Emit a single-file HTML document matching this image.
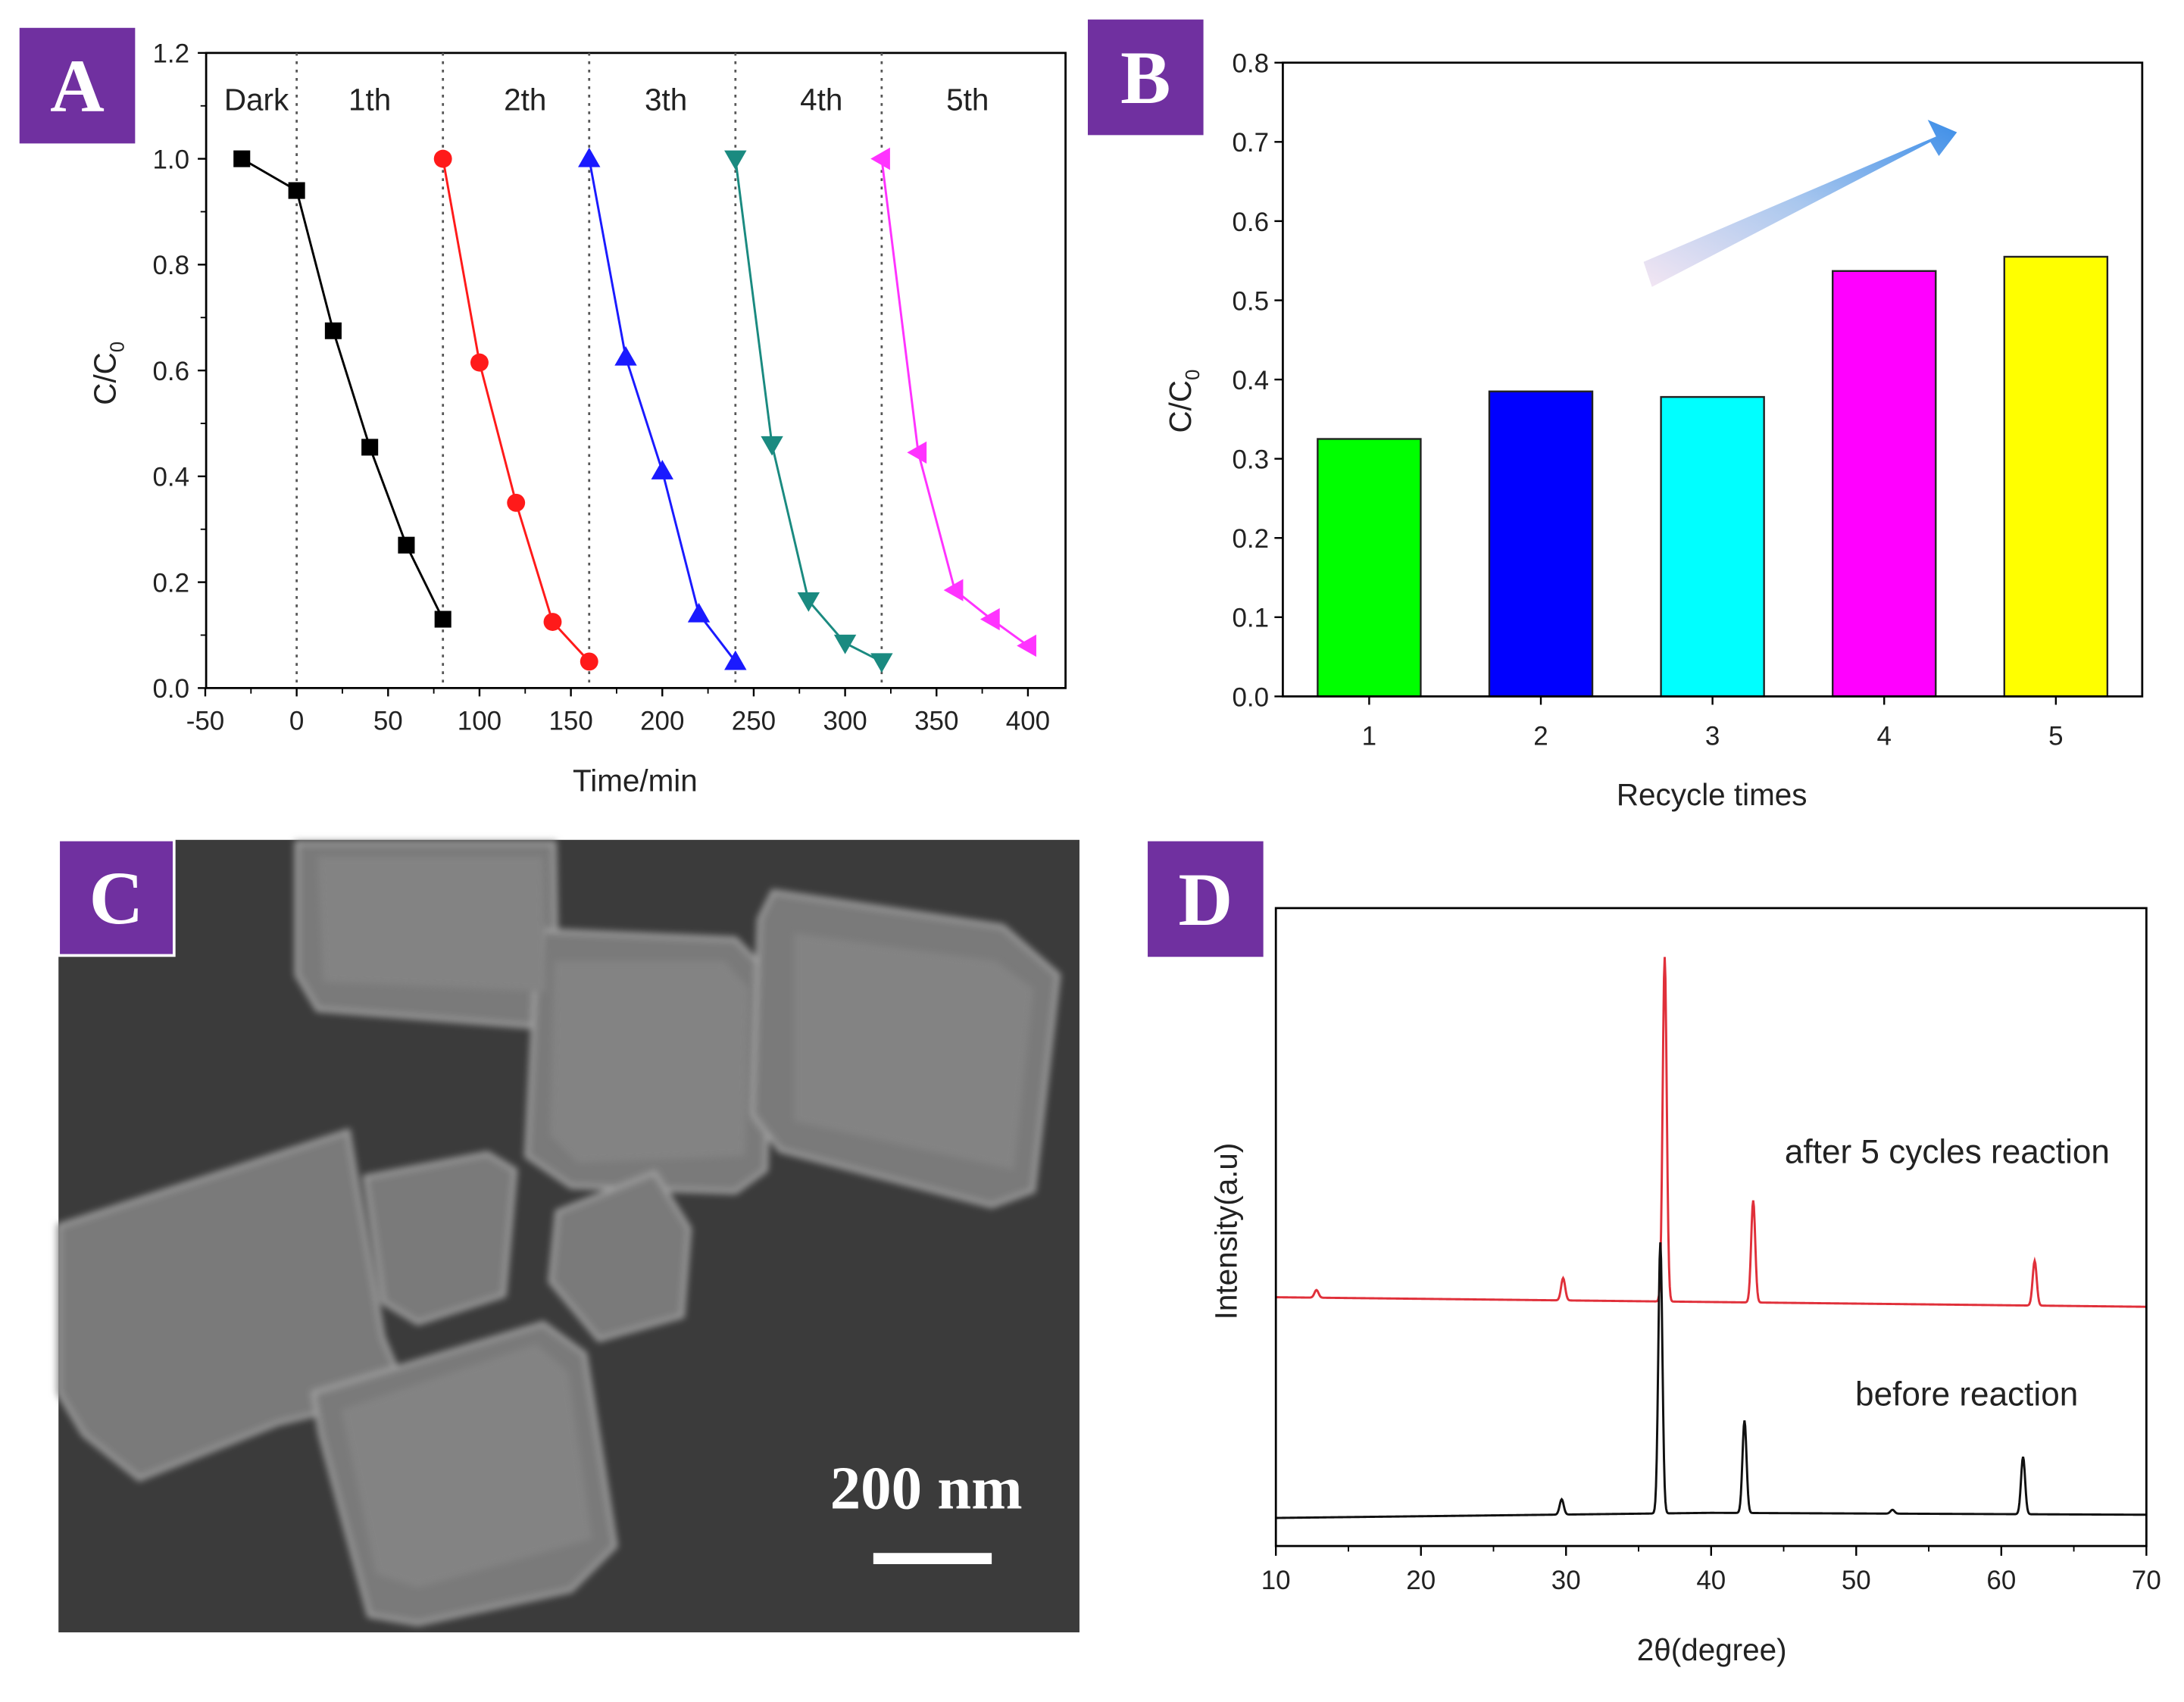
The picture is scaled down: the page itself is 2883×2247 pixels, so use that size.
<!DOCTYPE html>
<html><head><meta charset="utf-8"><style>
html,body{margin:0;padding:0;background:#fff;}
svg{display:block;font-family:"Liberation Sans",sans-serif;}
</style></head><body>
<svg id="fig" width="2883" height="2247" viewBox="0 0 1568 1222" preserveAspectRatio="none" xmlns="http://www.w3.org/2000/svg">
<defs>
<linearGradient id="arrowGrad" x1="0" y1="1" x2="1" y2="0">
<stop offset="0" stop-color="#f3e6f3"/><stop offset="0.5" stop-color="#a9c7ee"/><stop offset="1" stop-color="#3d8ee8"/>
</linearGradient>
<filter id="blur"><feGaussianBlur stdDeviation="2.5"/></filter>
</defs>
<g id="gA"></g>
<g id="gB"></g>
<g id="gC">
<rect x="42" y="603" width="733" height="569" fill="#3b3b3b"/>
<g fill="#7a7a7a" stroke="#a0a0a0" stroke-width="3" filter="url(#blur)">
<polygon points="213,605 398,605 400,720 380,737 228,725 213,700"/>
<polygon points="388,668 528,674 553,700 550,840 528,856 410,852 378,830 385,690"/>
<polygon points="555,640 720,665 760,700 742,855 712,866 560,826 540,800 545,660"/>
<polygon points="400,870 470,842 495,882 490,945 430,962 395,920"/>
<polygon points="42,880 250,812 275,960 292,1000 200,1022 100,1062 60,1030 42,1000"/>
<polygon points="262,845 350,828 370,840 362,930 300,950 275,935"/>
<polygon points="225,1000 390,950 420,972 442,1110 410,1142 300,1166 265,1160 230,1030"/>
</g>
<g fill="#838383" filter="url(#blur)">
<polygon points="228,615 390,615 392,712 232,705"/>
<polygon points="398,690 520,690 538,710 535,830 415,835 395,815"/>
<polygon points="570,670 715,690 742,710 728,840 570,805"/>
<polygon points="245,1012 385,965 408,985 425,1105 300,1140 270,1130"/>
</g>
<text x="665" y="1083" text-anchor="middle" font-family="Liberation Serif,serif" font-weight="bold" font-size="44" fill="#fff">200 nm</text>
<rect x="627" y="1115" width="85" height="8" fill="#fff"/>
</g>
<g id="gD"></g>
<g id="labels"></g>
</svg>
<script>
// ---------- Panel A data ----------
const aSeriesNames = ["black","red","blue","teal","magenta"];
const aTimes = [[-30,0,20,40,60,80],[80,100,120,140,160],[160,180,200,220,240],[240,260,280,300,320],[320,340,360,380,400]];
const aValues = [[1.0,0.94,0.675,0.455,0.27,0.13],[1.0,0.615,0.35,0.125,0.05],[1.0,0.625,0.41,0.14,0.05],[1.0,0.46,0.165,0.085,0.05],[1.0,0.445,0.185,0.13,0.08]];
const aColors = ["#000000","#ff1a1a","#1a1aff","#1a8a80","#ff33ff"];
const aXTicks = [-50,0,50,100,150,200,250,300,350,400];
const aYTicks = [0.0,0.2,0.4,0.6,0.8,1.0,1.2];
const aDividers = [0,80,160,240,320];
const aStageLabels = ["Dark","1th","2th","3th","4th","5th"];
const aStageX = [-22,40,125,202,287,367];
// ---------- Panel B data ----------
const bCategories = ["1","2","3","4","5"];
const bValues = [0.325,0.385,0.378,0.537,0.555];
const bColors = ["#00ff00","#0000ff","#00ffff","#ff00ff","#ffff00"];
const bYTicks = [0.0,0.1,0.2,0.3,0.4,0.5,0.6,0.7,0.8];
// ---------- Panel D data ----------
const dXTicks = [10,20,30,40,50,60,70];
const redPeaksPos = [12.8,29.8,36.8,42.9,62.3];
const redPeaksAmp = [1.2,3.5,54,16,7];
const redBase = [39,37.5];
const blackPeaksPos = [29.7,36.5,42.3,52.5,61.5];
const blackPeaksAmp = [2.4,42.5,14.5,0.6,9];
const blackBase = [4.4,5.2,4.9];

const NS="http://www.w3.org/2000/svg";
function mk(parent,tag,attrs,text){const e=document.createElementNS(NS,tag);for(const k in attrs)e.setAttribute(k,attrs[k]);if(text!==undefined)e.textContent=text;parent.appendChild(e);return e;}

// ===== Panel A =====
(function(){
const g=document.getElementById('gA');
const L=148,R=765,T=38,B=494;
const xA=v=>213+(v-0)*(738-213)/400;
const yA=v=>B-(v/1.2)*(B-T);
let e=mk(g,'rect',{x:L,y:T,width:R-L,height:B-T,fill:'none',stroke:'#000','stroke-width':1.5});

aXTicks.forEach(t=>{const x=xA(t);mk(g,'line',{x1:x,y1:B,x2:x,y2:B+6,stroke:'#000','stroke-width':1.3});
 e=mk(g,'text',{x:x,y:B+30,'text-anchor':'middle','font-size':19,fill:'#222'},String(t));
 
 const xm=xA(t+25); if(t<400) mk(g,'line',{x1:xm,y1:B,x2:xm,y2:B+4,stroke:'#000','stroke-width':1});});
aYTicks.forEach(t=>{const y=yA(t);mk(g,'line',{x1:L-6,y1:y,x2:L,y2:y,stroke:'#000','stroke-width':1.3});
 e=mk(g,'text',{x:L-12,y:y+7,'text-anchor':'end','font-size':19,fill:'#222'},t.toFixed(1));
 
 if(t<1.2){const ym=yA(t+0.1);mk(g,'line',{x1:L-4,y1:ym,x2:L,y2:ym,stroke:'#000','stroke-width':1});}});
aDividers.forEach(d=>{const x=xA(d);e=mk(g,'line',{x1:x,y1:T,x2:x,y2:B,stroke:'#555','stroke-width':1.5,'stroke-dasharray':'2,4'});
 });
aStageLabels.forEach((s,i)=>{e=mk(g,'text',{x:xA(aStageX[i]),y:79,'text-anchor':'middle','font-size':22,fill:'#222'},s);
 });
aTimes.forEach((ts,si)=>{const c=aColors[si];
 const pts=ts.map((t,i)=>xA(t)+','+yA(aValues[si][i])).join(' ');
 e=mk(g,'polyline',{points:pts,fill:'none',stroke:c,'stroke-width':1.6});
 
 ts.forEach((t,i)=>{const x=xA(t),y=yA(aValues[si][i]);let m;
  if(si===0) m=mk(g,'rect',{x:x-6,y:y-6,width:12,height:12,fill:c});
  else if(si===1) m=mk(g,'circle',{cx:x,cy:y,r:6.5,fill:c});
  else if(si===2) m=mk(g,'polygon',{points:`${x},${y-8} ${x-8},${y+6} ${x+8},${y+6}`,fill:c});
  else if(si===3) m=mk(g,'polygon',{points:`${x},${y+8} ${x-8},${y-6} ${x+8},${y-6}`,fill:c});
  else m=mk(g,'polygon',{points:`${x-8},${y} ${x+6},${y-8} ${x+6},${y+8}`,fill:c});
  });});
e=mk(g,'text',{x:456,y:568,'text-anchor':'middle','font-size':22,fill:'#222'},'Time/min');

e=mk(g,'text',{x:0,y:0,transform:'translate(83,268) rotate(-90)','text-anchor':'middle','font-size':22,fill:'#222'});
e.innerHTML='C/C<tspan font-size="14" dy="6">0</tspan>';

})();

// ===== Panel B =====
(function(){
const g=document.getElementById('gB');
const L=921,R=1538,T=45,B=500;
const yB=v=>B-(v/0.8)*(B-T);
const xB=i=>983+i*123.25;
let e;
e=mk(g,'path',{d:'M1180,188 L1390,98 L1384,86 L1405,95 L1392,112 L1386,102 L1186,206 Z',fill:'url(#arrowGrad)'});

bValues.forEach((v,i)=>{e=mk(g,'rect',{x:xB(i)-37,y:yB(v),width:74,height:B-yB(v),fill:bColors[i],stroke:'#222','stroke-width':1.3});
 
 mk(g,'line',{x1:xB(i),y1:B,x2:xB(i),y2:B+6,stroke:'#000','stroke-width':1.3});
 e=mk(g,'text',{x:xB(i),y:B+35,'text-anchor':'middle','font-size':19,fill:'#222'},bCategories[i]);
 });
e=mk(g,'rect',{x:L,y:T,width:R-L,height:B-T,fill:'none',stroke:'#000','stroke-width':1.5});

bYTicks.forEach(t=>{const y=yB(t);mk(g,'line',{x1:L-6,y1:y,x2:L,y2:y,stroke:'#000','stroke-width':1.3});
 e=mk(g,'text',{x:L-10,y:y+7,'text-anchor':'end','font-size':19,fill:'#222'},t.toFixed(1));
 });
e=mk(g,'text',{x:1229,y:578,'text-anchor':'middle','font-size':22,fill:'#222'},'Recycle times');

e=mk(g,'text',{x:0,y:0,transform:'translate(855,288) rotate(-90)','text-anchor':'middle','font-size':22,fill:'#222'});
e.innerHTML='C/C<tspan font-size="14" dy="6">0</tspan>';

})();

// ===== Panel D =====
(function(){
const g=document.getElementById('gD');
const L=916,R=1541,T=652,B=1110;
const xD=v=>L+(v-10)*(R-L)/60;
const yD=v=>B-v*(B-T)/100;
function curve(pos,amp,base,color,name,sig){
 let d='';
 for(let a=10;a<=70.001;a+=0.05){
  const f=(a-10)/60;let b;
  if(base.length===2) b=base[0]+(base[1]-base[0])*f;
  else b=f<0.5?base[0]+(base[1]-base[0])*f*2:base[1]+(base[2]-base[1])*(f-0.5)*2;
  let v=b;pos.forEach((p,i)=>{v+=amp[i]*Math.exp(-((a-p)*(a-p))/(2*sig*sig));});
  d+=(d?'L':'M')+xD(a).toFixed(2)+','+yD(v).toFixed(2);}
 const e=mk(g,'path',{d:d,fill:'none',stroke:color,'stroke-width':1.6});
 }
curve(redPeaksPos,redPeaksAmp,redBase,'#e0303a','series-after-5-cycles',0.14);
curve(blackPeaksPos,blackPeaksAmp,blackBase,'#111','series-before-reaction',0.14);
let e=mk(g,'rect',{x:L,y:T,width:R-L,height:B-T,fill:'none',stroke:'#000','stroke-width':1.5});

dXTicks.forEach(t=>{const x=xD(t);mk(g,'line',{x1:x,y1:B,x2:x,y2:B+7,stroke:'#000','stroke-width':1.3});
 if(t<70){const xm=xD(t+5);mk(g,'line',{x1:xm,y1:B,x2:xm,y2:B+4,stroke:'#000','stroke-width':1});}
 e=mk(g,'text',{x:x,y:B+31,'text-anchor':'middle','font-size':19,fill:'#222'},String(t));
 });
e=mk(g,'text',{x:1398,y:835,'text-anchor':'middle','font-size':24,fill:'#222'},'after 5 cycles reaction');

e=mk(g,'text',{x:1412,y:1009,'text-anchor':'middle','font-size':24,fill:'#222'},'before reaction');

e=mk(g,'text',{x:1229,y:1192,'text-anchor':'middle','font-size':22,fill:'#222'},'2θ(degree)');

e=mk(g,'text',{x:0,y:0,transform:'translate(888,884) rotate(-90)','text-anchor':'middle','font-size':22,fill:'#222'},'Intensity(a.u)');

})();

// ===== Panel letter labels =====
(function(){
const g=document.getElementById('labels');
const letters=["A","B","C","D"];
const lx=[14,781,42,824], ly=[20,14,603,604];
letters.forEach((l,i)=>{
 let e=mk(g,'rect',{x:lx[i],y:ly[i],width:83,height:83,fill:'#7030a0',stroke:i===2?'#fff':'none','stroke-width':2});
 
 e=mk(g,'text',{x:lx[i]+41.5,y:ly[i]+60,'text-anchor':'middle','font-family':'Liberation Serif,serif','font-weight':'bold','font-size':54,fill:'#fff'},l);
 });
})();
</script>
</body></html>
